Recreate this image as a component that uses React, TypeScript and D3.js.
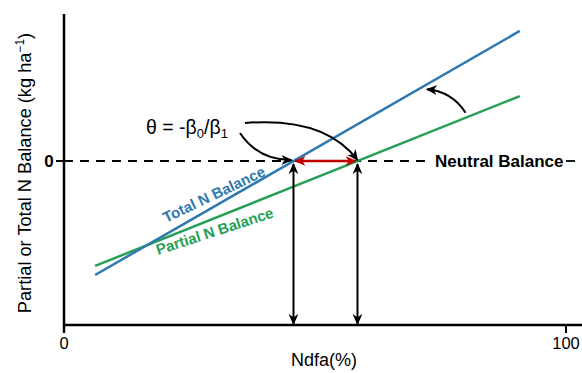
import React from 'react';
import * as d3 from 'd3';

// line end points (Ndfa %, balance in arbitrary units)
const ndfaEnds = [6.2, 90.8];
const totalBalance = [-69.5, 79.3];
const partialBalance = [-64.0, 39.6];

const xTicks = [0, 100];
const xTickLabels = ['0', '100'];
const yTicks = [0];
const yTickLabels = ['0'];

const W = 582;
const H = 373;
const BLUE = '#2f78b0';
const GREEN = '#27a055';
const RED = '#c00000';
const FONT = '"Liberation Sans", Arial, sans-serif';

// theta = -b0/b1 for a straight line through two points
function theta(xs: number[], ys: number[]) {
  const b1 = (ys[1] - ys[0]) / (xs[1] - xs[0]);
  const b0 = ys[0] - b1 * xs[0];
  return { b0, b1, zero: -b0 / b1 };
}

export default function App() {
  const x = d3.scaleLinear().domain([0, 100]).range([64, 566]);
  const y = d3.scaleLinear().domain([-100, 90]).range([325, 13.4]);

  const tot = theta(ndfaEnds, totalBalance);
  const par = theta(ndfaEnds, partialBalance);

  const line = d3.line<[number, number]>().x(d => x(d[0])).y(d => y(d[1]));
  const totalPts = ndfaEnds.map((v, i) => [v, totalBalance[i]] as [number, number]);
  const partialPts = ndfaEnds.map((v, i) => [v, partialBalance[i]] as [number, number]);

  const x0 = x(0);
  const yBase = y(-100);
  const yZero = y(0);
  const xt = x(tot.zero);
  const xp = x(par.zero);

  // shift arrow between the two lines
  const sFrom = [x(80), y(par.b0 + par.b1 * 80) - 5];
  const sTo = [x(72.3), y(tot.b0 + tot.b1 * 72.3) + 5];

  return (
    <svg width={W} height={H} style={{ position: 'absolute', left: 0, top: 0, background: '#fff' }}
      fontFamily={FONT}>
      <defs>
        <marker id="ah" viewBox="0 0 10 10" refX="9" refY="5" markerWidth="11" markerHeight="11"
          markerUnits="userSpaceOnUse" orient="auto-start-reverse">
          <path d="M0,0.5 L10,5 L0,9.5 L2.8,5 z" fill="#000" />
        </marker>
        <marker id="ahr" viewBox="0 0 10 10" refX="9" refY="5" markerWidth="11" markerHeight="11"
          markerUnits="userSpaceOnUse" orient="auto-start-reverse">
          <path d="M0,0.5 L10,5 L0,9.5 L2.8,5 z" fill={RED} />
        </marker>
      </defs>

      {/* neutral balance dashed line */}
      <line x1={x0} x2={431} y1={yZero} y2={yZero} stroke="#000" strokeWidth={1.8} strokeDasharray="9,7" />
      <line x1={566} x2={575} y1={yZero} y2={yZero} stroke="#000" strokeWidth={1.8} />
      <text x={435} y={yZero + 6} fontSize={17} fontWeight="bold">Neutral Balance</text>

      {/* data lines */}
      <path d={line(partialPts) || ''} fill="none" stroke={GREEN} strokeWidth={2.5} />
      <path d={line(totalPts) || ''} fill="none" stroke={BLUE} strokeWidth={2.5} />

      <text transform={`translate(166,223) rotate(-25.5)`} fontSize={15} fontWeight="bold" fill={BLUE}>
        Total N Balance
      </text>
      <text transform={`translate(158,255) rotate(-18)`} fontSize={15} fontWeight="bold" fill={GREEN}>
        Partial N Balance
      </text>

      {/* axes */}
      <line x1={x0} x2={x0} y1={14} y2={333} stroke="#000" strokeWidth={2.5} />
      <line x1={x0} x2={W} y1={yBase} y2={yBase} stroke="#000" strokeWidth={2.5} />
      {xTicks.map((t, i) => (
        <g key={t}>
          <line x1={x(t)} x2={x(t)} y1={yBase} y2={yBase + 8} stroke="#000" strokeWidth={2} />
          <text x={x(t)} y={349} fontSize={16.5} textAnchor="middle">{xTickLabels[i]}</text>
        </g>
      ))}
      {yTicks.map((t, i) => (
        <g key={t}>
          <line x1={x0 - 8} x2={x0} y1={y(t)} y2={y(t)} stroke="#000" strokeWidth={2} />
          <text x={49} y={y(t) + 6} fontSize={17} fontWeight="bold" textAnchor="middle">{yTickLabels[i]}</text>
        </g>
      ))}
      <text x={324} y={366} fontSize={18} textAnchor="middle">Ndfa(%)</text>
      <text transform={`translate(31,173) rotate(-90)`} fontSize={18.2} textAnchor="middle">
        Partial or Total N Balance (kg ha<tspan fontSize={12} dy={-7}>−1</tspan><tspan dy={7}>)</tspan>
      </text>

      {/* vertical arrows at theta */}
      {[xt, xp].map((xv, i) => (
        <line key={i} x1={xv} x2={xv} y1={yBase - 1} y2={yZero + 3} stroke="#000" strokeWidth={2}
          markerStart="url(#ah)" markerEnd="url(#ah)" />
      ))}
      {/* red difference arrow */}
      <line x1={xt + 2} x2={xp - 2} y1={yZero} y2={yZero} stroke={RED} strokeWidth={2.5}
        markerStart="url(#ahr)" markerEnd="url(#ahr)" />

      {/* theta label and curved arrows */}
      <text x={146} y={134} fontSize={19.5}>
        θ = -β<tspan fontSize={13} dy={4}>0</tspan><tspan dy={-4}>/β</tspan><tspan fontSize={13} dy={4}>1</tspan>
      </text>
      <path d={`M240,133 Q258,160 ${xt - 2},${yZero - 1}`} fill="none" stroke="#000" strokeWidth={2}
        markerEnd="url(#ah)" />
      <path d={`M245,123 C295,119 335,130 ${xp},${yZero - 1}`} fill="none" stroke="#000" strokeWidth={2}
        markerEnd="url(#ah)" />
      <path d={`M${sFrom[0]},${sFrom[1]} Q${sFrom[0] - 14},${sTo[1] + 2} ${sTo[0]},${sTo[1]}`} fill="none"
        stroke="#000" strokeWidth={2} markerEnd="url(#ah)" />
    </svg>
  );
}
